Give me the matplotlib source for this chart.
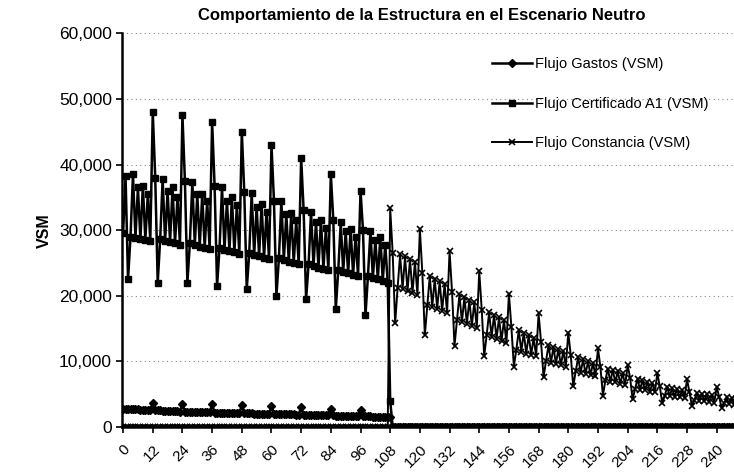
import numpy as np
import matplotlib.pyplot as plt

# monthly flows in VSM, month 0..250
months = list(range(251))

flujo_gastos = [
    2800, 2780, 2760, 2740, 2720, 2700, 2680, 2660, 2640, 2620, 2600, 2580,
    3600, 2560, 2540, 2520, 2500, 2480, 2460, 2440, 2420, 2400, 2380, 2360,
    3550, 2340, 2320, 2300, 2290, 2280, 2270, 2260, 2250, 2240, 2230, 2220,
    3450, 2210, 2200, 2190, 2180, 2170, 2160, 2150, 2140, 2130, 2120, 2110,
    3300, 2100, 2090, 2080, 2070, 2060, 2050, 2040, 2030, 2020, 2010, 2000,
    3200, 1990, 1980, 1970, 1960, 1950, 1940, 1930, 1920, 1910, 1900, 1890,
    3000, 1880, 1870, 1860, 1850, 1840, 1830, 1820, 1810, 1800, 1790, 1780,
    2750, 1770, 1750, 1740, 1720, 1710, 1700, 1690, 1680, 1670, 1660, 1650,
    2600, 1640, 1630, 1620, 1610, 1600, 1590, 1580, 1570, 1560, 1550, 1540,
    1500,
] + [0] * 142

flujo_certificado = [
    29500, 38200, 22500, 29000, 38500, 28800, 36500, 28600, 36800, 28500, 35500, 28400,
    48000, 38000, 22000, 28600, 37800, 28300, 36000, 28200, 36500, 28000, 35000, 27800,
    47500, 37500, 22000, 28000, 37300, 27700, 35500, 27500, 35500, 27300, 34500, 27100,
    46500, 36800, 21500, 27300, 36500, 27000, 34500, 26800, 35000, 26600, 33800, 26400,
    45000, 35800, 21000, 26500, 35600, 26200, 33600, 26000, 34000, 25800, 32800, 25600,
    43000, 34500, 20000, 25700, 34400, 25400, 32500, 25200, 32600, 25000, 31500, 24800,
    41000, 33000, 19500, 24800, 32800, 24500, 31200, 24300, 31500, 24100, 30300, 23900,
    38500, 31500, 18000, 23900, 31200, 23600, 29800, 23400, 30200, 23200, 29000, 23000,
    36000, 30000, 17000, 23000, 29800, 22700, 28500, 22500, 29000, 22300, 27800, 22000,
    4000,
] + [0] * 142

flujo_constancia = [0] * 108 + [
    33300, 26500, 15800, 21200, 26300, 21000, 26000, 20700, 25600, 20400, 25200, 20100,
    30100, 23400, 14000, 18600, 23000, 18300, 22600, 18000, 22200, 17700, 21800, 17400,
    26800, 20600, 12400, 16300, 20200, 16000, 19800, 15700, 19400, 15400, 19000, 15100,
    23700, 17900, 10800, 14000, 17500, 13700, 17100, 13400, 16700, 13100, 16300, 12800,
    20300, 15200, 9200, 11800, 14800, 11500, 14400, 11200, 14000, 11000, 13600, 10800,
    17300, 12900, 7600, 10000, 12500, 9800, 12200, 9600, 11900, 9400, 11600, 9200,
    14400, 10900, 6200, 8500, 10600, 8300, 10300, 8100, 10000, 7900, 9800, 7700,
    12000, 9100, 4800, 7100, 8900, 6900, 8700, 6800, 8500, 6600, 8200, 6400,
    9400, 7500, 4200, 5800, 7300, 5700, 7100, 5600, 6900, 5400, 6700, 5300,
    8200, 6200, 3600, 4800, 6100, 4700, 5900, 4600, 5800, 4500, 5600, 4400,
    7300, 5300, 3200, 4100, 5200, 4000, 5100, 3900, 5000, 3800, 4900, 3700,
    6100, 4600, 2900, 3600, 4500, 3500, 4400, 3400, 4300, 3300, 4200,
]

x_ticks = list(range(0, 241, 12))
y_ticks = [0, 10000, 20000, 30000, 40000, 50000, 60000]

plt.rcParams["font.family"] = ["Liberation Sans", "DejaVu Sans"]

fig = plt.figure(figsize=(7.34, 4.75), dpi=100)
ax = fig.add_axes([0.166, 0.101, 0.834, 0.829])

ax.plot(months, flujo_gastos, color="black", lw=1.8, marker="D", ms=3.6,
        label="Flujo Gastos (VSM)")
ax.plot(months, flujo_certificado, color="black", lw=1.8, marker="s", ms=4.8,
        label="Flujo Certificado A1 (VSM)")
ax.plot(months, flujo_constancia, color="black", lw=1.4, marker="x", ms=4,
        mew=1.2, label="Flujo Constancia (VSM)")

ax.set_xlim(-0.5, 247)
ax.set_ylim(0, 60000)
ax.set_yticks(y_ticks)
ax.set_yticklabels([f"{v:,}" for v in y_ticks], fontsize=12.5)
ax.set_xticks(x_ticks)
ax.set_xticklabels([str(v) for v in x_ticks], fontsize=11, rotation=45,
                   ha="right", rotation_mode="anchor")
ax.tick_params(axis="x", pad=7, length=4, width=1.2)
ax.tick_params(axis="y", pad=3, length=4, width=1.2)

for v in y_ticks[1:]:
    ax.axhline(v, color="#888888", lw=0.8, ls=(0, (1, 3)), zorder=0)

for side in ("top", "right"):
    ax.spines[side].set_visible(False)
ax.spines["left"].set_linewidth(1.8)
ax.spines["bottom"].set_linewidth(1.8)

ax.set_ylabel("VSM", fontsize=11.5, fontweight="bold")
ax.yaxis.set_label_coords(-0.115, 0.5)

fig.text(0.575, 0.968, "Comportamiento de la Estructura en el Escenario Neutro",
         ha="center", va="center", fontsize=12, fontweight="bold")

ax.legend(loc="upper left", bbox_to_anchor=(0.661, 0.895),
          bbox_transform=fig.transFigure, frameon=False, fontsize=10.5,
          handlelength=2.7, handletextpad=0.2, labelspacing=1.75, borderpad=0)

fig.savefig("out.png", dpi=100)
